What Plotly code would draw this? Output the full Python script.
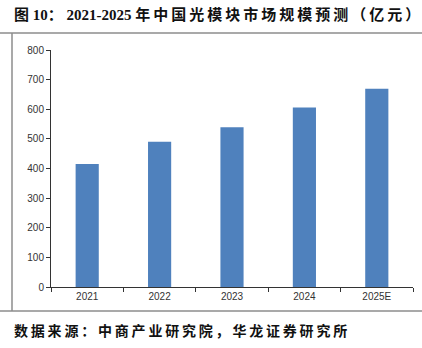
import plotly.graph_objects as go

# China optical module market size, 100 million yuan
years = ["2021", "2022", "2023", "2024", "2025E"]
market_size = [415, 490, 539, 606, 669]
y_ticks = [0, 100, 200, 300, 400, 500, 600, 700, 800]

title_head = "图 10："
title_years = "2021-2025"
title_tail = "年中国光模块市场规模预测（亿元）"
source_text = "数据来源：中商产业研究院，华龙证券研究所"

W, H = 422, 348
L, R, T, B = 51, 9, 50, 61
pw, ph = W - L - R, H - T - B


def px(x):
    return (x - L) / pw


def py(y):
    return (H - B - y) / ph


def spaced(s, gap="\u2009"):
    # loosen CJK character spacing like the report typesetting
    return gap.join(s)


fig = go.Figure(
    go.Bar(
        x=years,
        y=market_size,
        marker=dict(color="#4F81BD", line=dict(width=0)),
        width=0.32,
    )
)

fig.update_layout(
    width=W,
    height=H,
    margin=dict(l=L, r=R, t=T, b=B),
    paper_bgcolor="white",
    plot_bgcolor="white",
    showlegend=False,
    font=dict(family="Liberation Sans, Arial, sans-serif", size=10, color="#333333"),
)

fig.update_xaxes(
    type="category",
    showline=True,
    linecolor="#333333",
    linewidth=1,
    ticks="outside",
    tickson="boundaries",
    ticklen=4,
    tickcolor="#333333",
    showgrid=False,
    tickfont=dict(size=10, color="#333333"),
)
fig.update_yaxes(
    range=[0, 800],
    tickvals=y_ticks,
    showline=True,
    linecolor="#333333",
    linewidth=1,
    ticks="outside",
    ticklen=4,
    tickcolor="#333333",
    showgrid=False,
    zeroline=False,
    tickfont=dict(size=10, color="#333333"),
)

frame = dict(color="#8c8c8c", width=1.5)
fig.add_shape(type="line", xref="paper", yref="paper",
              x0=px(0), x1=px(W), y0=py(33), y1=py(33), line=frame)
fig.add_shape(type="line", xref="paper", yref="paper",
              x0=px(0), x1=px(W), y0=py(311), y1=py(311), line=frame)
fig.add_shape(type="line", xref="paper", yref="paper",
              x0=px(12), x1=px(12), y0=py(33), y1=py(311), line=frame)

title_text = (
    "<b>" + title_head + " " + title_years + " " + spaced(title_tail) + "</b>"
)
fig.add_annotation(
    text=title_text,
    xref="paper", yref="paper", x=px(12), y=py(14),
    xanchor="left", yanchor="middle", showarrow=False,
    font=dict(family="Liberation Serif, Noto Sans CJK SC", size=15, color="#111111"),
)
fig.add_annotation(
    text="<b>" + spaced(source_text) + "</b>",
    xref="paper", yref="paper", x=px(12), y=py(330),
    xanchor="left", yanchor="middle", showarrow=False,
    font=dict(family="Noto Sans CJK SC", size=14, color="#111111"),
)

fig.write_html("out.html")
